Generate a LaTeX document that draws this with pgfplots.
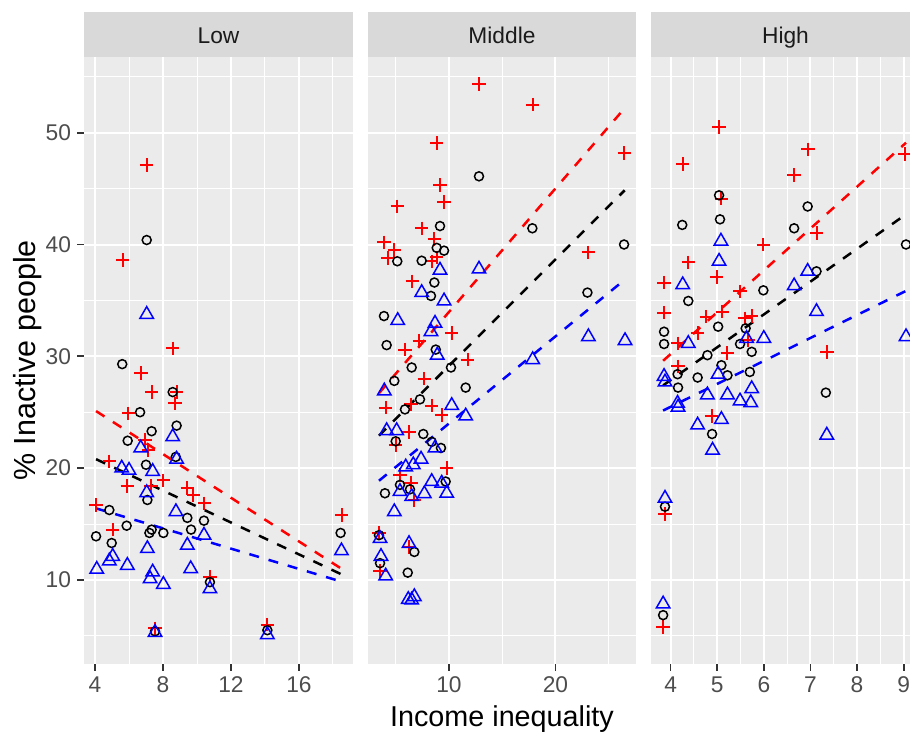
\documentclass[border=0pt]{standalone}
\usepackage{fontspec}
\setmainfont{Liberation Sans}
\usepackage{pgfplots}
\pgfplotsset{compat=1.18}

\definecolor{panelbg}{HTML}{EBEBEB}
\definecolor{stripbg}{HTML}{D9D9D9}
\definecolor{ticktext}{HTML}{4D4D4D}
\definecolor{tickline}{HTML}{333333}
\definecolor{striptext}{HTML}{1A1A1A}

\pgfplotsset{
  facet/.style={
    scale only axis, width=107.6pt, height=242.8pt,
    anchor=north west,
    ymin=2.48, ymax=56.77,
    axis background/.style={fill=panelbg},
    axis line style={draw=none},
    grid=both,
    major grid style={white, line width=0.8pt},
    minor grid style={white, line width=0.4pt},
    tick align=outside, major tick length=2.8pt, minor tick length=0pt,
    tick style={tickline, line width=0.7pt},
    tick pos=left,
    ytick={10,20,30,40,50}, minor ytick={5,15,25,35,45,55},
    ticklabel style={font=\fontsize{9.1}{10}\selectfont, text=ticktext},
    /pgf/number format/assume math mode=true,
    xticklabel style={inner sep=0pt, yshift=-2.2pt, anchor=north},
    yticklabel style={inner sep=0pt, xshift=-2.2pt, anchor=east},
  },
  pw/.style={only marks, red, mark=+, mark size=2.7pt, mark options={line width=0.8pt}},
  pt/.style={only marks, black, mark=o, mark size=1.8pt, mark options={line width=0.6pt}},
  pm/.style={only marks, blue, mark=triangle, mark size=3.1pt, mark options={line width=0.6pt}},
  fit/.style={no marks, line width=1pt, dash pattern=on 4pt off 4pt},
}

\begin{document}
\begin{tikzpicture}
\path[use as bounding box] (0,0) rectangle (364pt,-294.4pt);

% ---- Low ----
\begin{axis}[facet, name=p1, at={(33.6pt,-22.8pt)},
  xmin=3.35, xmax=19.18,
  xtick={4,8,12,16}, minor xtick={6,10,14,18}]
\addplot[fit, red] coordinates {(4.06,25.1) (18.5,11.0)};
\addplot[fit, black] coordinates {(4.06,20.8) (18.5,10.5)};
\addplot[fit, blue] coordinates {(4.06,16.4) (18.5,9.85)};
\addplot[pw] coordinates {
(7.04,47.1) (5.63,38.6) (8.57,30.7) (6.69,28.5) (7.33,26.8) (8.8,26.8)
(8.7,25.8) (5.96,24.9) (6.94,22.5) (7.14,21.6) (4.84,20.6) (8.02,18.9)
(5.9,18.4) (7.28,18.4) (9.43,18.2) (9.78,17.6) (10.43,16.85) (4.06,16.7)
(5.04,14.5) (10.76,10.3) (7.53,5.67) (18.51,15.8) (14.14,6.0)};
\addplot[pt] coordinates {
(7.04,40.4) (5.6,29.3) (8.57,26.8) (6.65,25.0) (8.8,23.8) (7.33,23.3)
(5.92,22.45) (8.75,21.0) (7.0,20.3) (7.08,17.15) (4.84,16.25) (9.43,15.55)
(10.41,15.3) (5.86,14.85) (7.33,14.5) (7.2,14.2) (8.02,14.2) (9.65,14.5)
(4.06,13.9) (4.98,13.3) (10.76,9.8) (7.53,5.4) (18.45,14.2) (14.14,5.5)};
\addplot[pm] coordinates {
(7.04,33.75) (8.57,22.8) (6.69,21.8) (8.8,20.8) (5.57,20.0) (6.0,19.8)
(7.39,19.7) (7.04,17.8) (8.76,16.1) (10.41,14.0) (9.43,13.1) (7.08,12.8)
(5.04,12.1) (4.84,11.7) (5.9,11.3) (4.1,10.95) (9.63,11.0) (7.39,10.7)
(7.24,10.1) (8.02,9.6) (10.76,9.2) (7.53,5.3) (18.5,12.6) (14.14,5.1)};
\end{axis}

% ---- Middle ----
\begin{axis}[facet, name=p2, at={(147.2pt,-22.8pt)}, width=107.2pt,
  xmin=2.40, xmax=27.56, yticklabels={},
  xtick={10,20}, minor xtick={5,15,25}]
\addplot[fit, red] coordinates {(3.43,26.7) (26.5,52.2)};
\addplot[fit, black] coordinates {(3.43,22.9) (26.5,44.85)};
\addplot[fit, blue] coordinates {(3.43,18.87) (26.5,36.85)};
\addplot[pw] coordinates {
(12.82,54.36) (8.85,49.1) (9.16,45.3) (9.54,43.8) (5.15,43.4) (7.44,41.45)
(8.63,40.5) (3.9,40.2) (4.87,39.5) (4.25,38.8) (8.38,38.5) (8.85,38.85)
(6.56,36.7) (10.26,32.1) (7.22,31.4) (5.87,30.6) (11.76,29.7) (7.69,28.0)
(4.06,25.4) (6.44,25.7) (8.38,25.6) (9.32,24.75) (6.25,23.25) (5.0,22.05)
(9.79,20.0) (5.4,19.4) (6.44,18.7) (6.75,17.15) (3.43,14.2) (6.25,12.95)
(3.53,10.8) (17.86,52.5) (26.47,48.2) (23.09,39.3)};
\addplot[pt] coordinates {
(12.82,46.1) (9.16,41.65) (8.85,39.7) (9.54,39.45) (5.15,38.5) (7.44,38.55)
(8.63,36.6) (8.31,35.4) (3.9,33.6) (4.15,31.0) (8.76,30.6) (6.5,29.0)
(10.19,29.0) (4.87,27.8) (11.57,27.2) (7.28,26.15) (5.87,25.25) (7.59,23.05)
(5.0,22.4) (8.38,22.35) (9.25,21.8) (9.69,18.8) (5.4,18.5) (6.34,18.1)
(3.99,17.75) (3.43,14.0) (6.75,12.5) (3.53,11.5) (6.13,10.65) (17.83,41.45)
(26.44,40.0) (23.0,35.7)};
\addplot[pm] coordinates {
(9.16,37.7) (12.82,37.8) (7.44,35.7) (9.54,34.95) (5.19,33.2) (8.69,32.95)
(8.31,32.2) (8.9,30.1) (3.93,26.9) (10.26,25.6) (11.57,24.66) (4.15,23.35)
(5.09,23.35) (8.69,21.8) (7.38,20.8) (6.65,20.3) (5.94,20.1) (8.38,18.8)
(9.32,18.65) (5.4,17.9) (7.69,17.7) (9.79,17.75) (6.5,17.45) (4.87,16.1)
(3.53,13.7) (6.25,13.25) (3.62,12.1) (4.06,10.35) (6.18,8.25) (6.75,8.5)
(6.5,8.2) (17.86,29.7) (23.09,31.75) (26.53,31.4)};
\end{axis}

% ---- High ----
\begin{axis}[facet, name=p3, at={(260.4pt,-22.8pt)},
  xmin=3.58, xmax=9.35, yticklabels={},
  xtick={4,5,6,7,8,9}, minor xtick={4.5,5.5,6.5,7.5,8.5}]
\addplot[fit, red] coordinates {(3.84,29.6) (9.05,49.1)};
\addplot[fit, black] coordinates {(3.84,27.4) (9.05,42.7)};
\addplot[fit, blue] coordinates {(3.84,25.15) (9.05,35.85)};
\addplot[pw] coordinates {
(5.04,50.5) (4.26,47.2) (5.09,44.1) (5.99,40.0) (4.38,38.4) (4.99,37.1)
(3.86,36.6) (5.49,35.8) (3.86,33.9) (5.11,34.0) (4.77,33.55) (5.59,33.4)
(5.74,33.6) (4.58,32.1) (4.15,31.15) (5.67,31.45) (5.22,30.3) (4.16,29.1)
(4.88,24.65) (3.88,15.9) (3.84,5.8) (6.95,48.5) (9.03,48.1) (6.65,46.2)
(7.13,41.05) (7.35,30.4)};
\addplot[pt] coordinates {
(5.04,44.4) (5.06,42.25) (4.25,41.75) (5.99,35.9) (4.38,34.95) (5.02,32.65)
(5.61,32.5) (3.86,32.2) (3.86,31.1) (5.49,31.1) (5.74,30.4) (4.79,30.1)
(5.09,29.2) (4.15,28.4) (4.58,28.1) (5.22,28.3) (5.7,28.6) (4.16,27.2)
(4.89,23.05) (3.88,16.55) (3.84,6.85) (6.94,43.4) (6.65,41.45) (9.05,40.0)
(7.13,37.6) (7.33,26.75)};
\addplot[pm] coordinates {
(5.08,40.3) (5.04,38.5) (4.26,36.4) (4.38,31.15) (5.63,31.6) (6.0,31.6)
(3.86,28.2) (5.02,28.4) (3.88,27.7) (5.74,27.1) (4.79,26.55) (5.22,26.55)
(5.49,26.0) (5.72,25.85) (4.15,25.8) (4.16,25.45) (5.09,24.35) (4.58,23.85)
(4.9,21.6) (3.88,17.3) (3.84,7.85) (6.94,37.6) (6.65,36.3) (7.13,34.0)
(9.05,31.75) (7.35,22.95)};
\end{axis}

% hide y tick marks of the inner panels
\fill[white] (141.2pt,-21pt) rectangle (147.2pt,-267pt);
\fill[white] (254.4pt,-21pt) rectangle (260.4pt,-267pt);

% strips
\fill[stripbg] (33.6pt,-4.8pt) rectangle (141.2pt,-22.8pt);
\fill[stripbg] (147.2pt,-4.8pt) rectangle (254.4pt,-22.8pt);
\fill[stripbg] (260.4pt,-4.8pt) rectangle (368pt,-22.8pt);
\begin{scope}[every node/.style={anchor=base, text=striptext, font=\fontsize{9.1}{10}\selectfont}]
\node at (87.4pt,-17.3pt) {Low};
\node at (200.8pt,-17.3pt) {Middle};
\node at (314.2pt,-17.3pt) {High};
\end{scope}

% axis titles
\node[anchor=base, font=\fontsize{11.5}{13}\selectfont] at (200.8pt,-290.4pt) {Income inequality};
\node[anchor=base, rotate=90, font=\fontsize{12.2}{13}\selectfont] at (14.4pt,-144.2pt) {\% Inactive people};
\end{tikzpicture}
\end{document}
